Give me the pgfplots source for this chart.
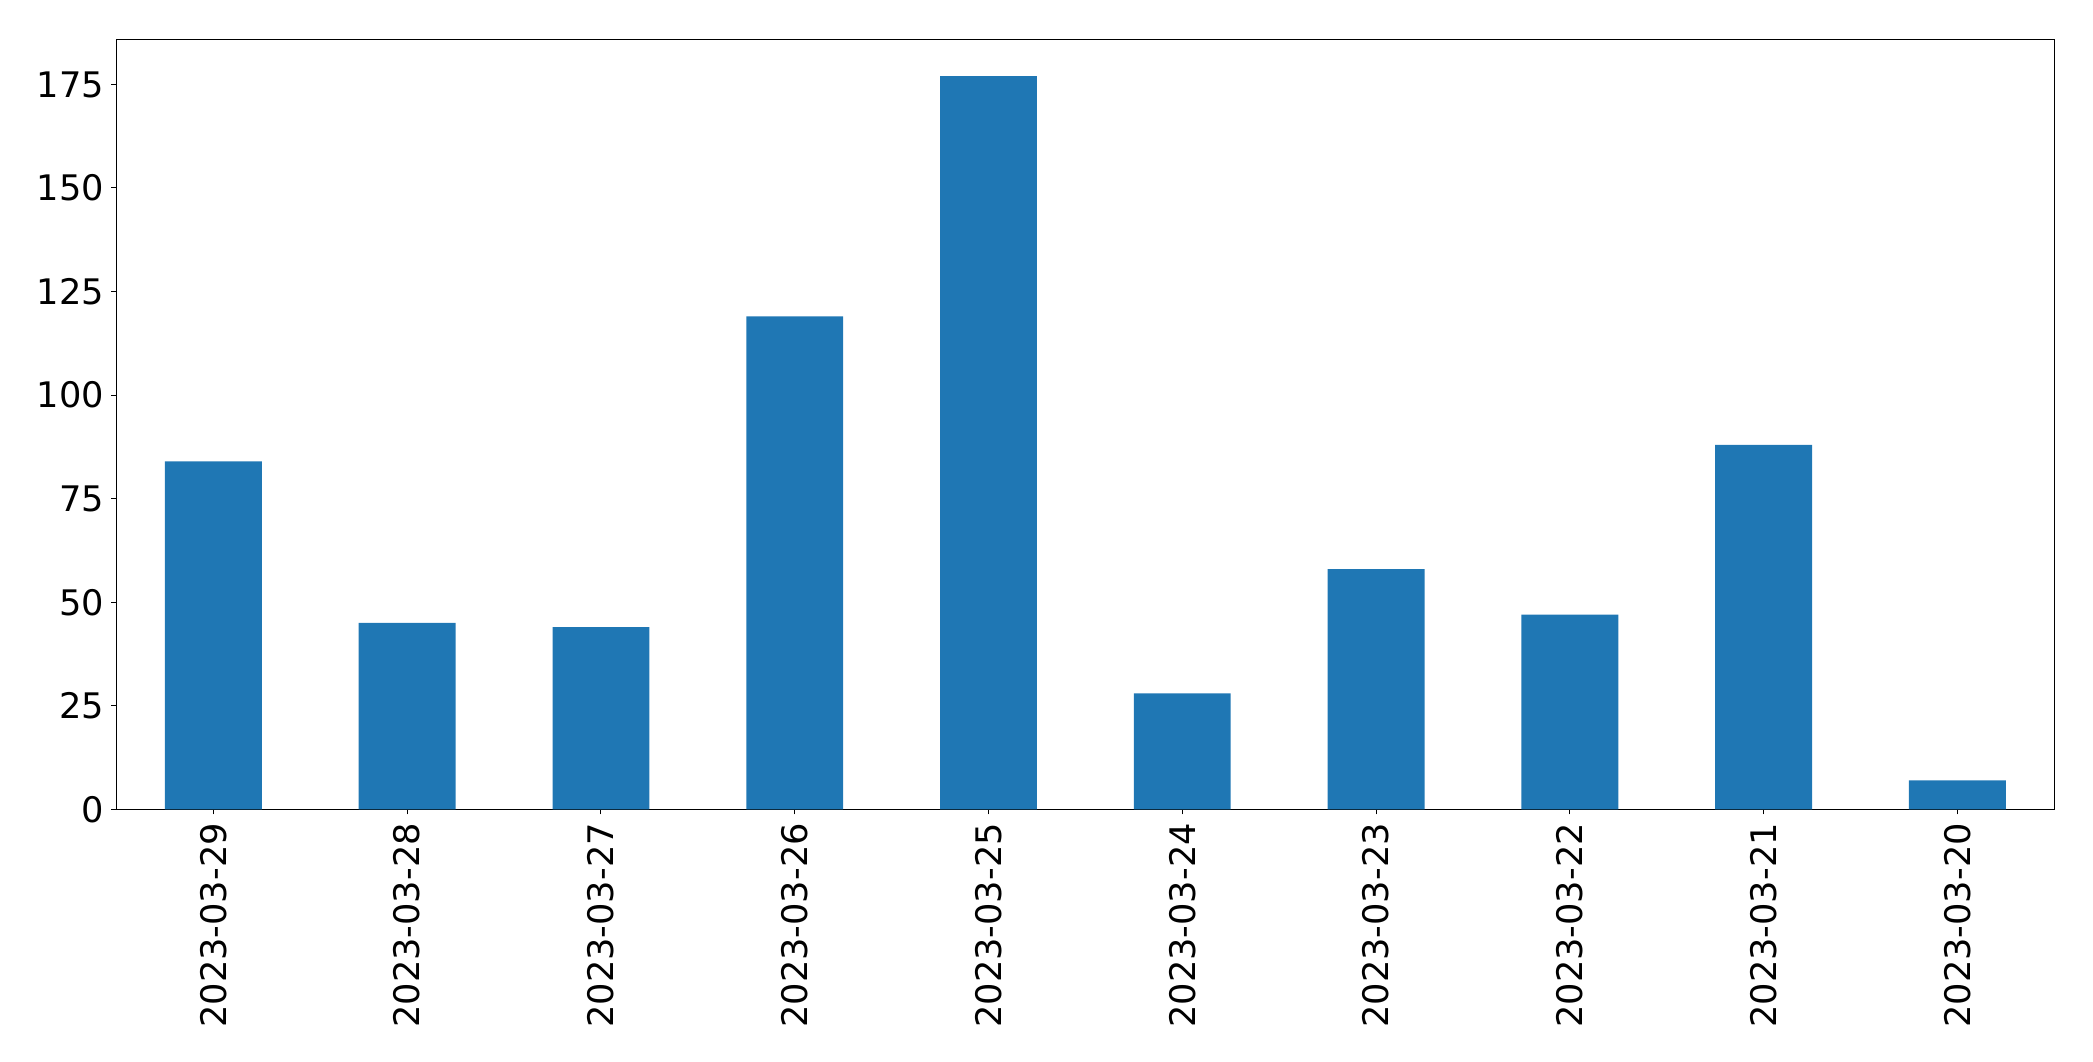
\documentclass[border=0pt]{standalone}
\usepackage{pgfplots}
\pgfplotsset{compat=1.18}
\usepackage{fontspec}
\setmainfont{DejaVu Sans}
\definecolor{mplblue}{HTML}{1F77B4}
\begin{document}
\begin{tikzpicture}
\useasboundingbox (-58.25pt,-125.85pt) rectangle (988.25pt,404.65pt);
\begin{axis}[
  at={(0,0)}, anchor=south west,
  scale only axis,
  width=968.9pt, height=384.9pt,
  xmin=-0.5, xmax=9.5,
  ymin=0, ymax=185.85,
  xtick={0,1,2,3,4,5,6,7,8,9},
  xticklabels={2023-03-29,2023-03-28,2023-03-27,2023-03-26,2023-03-25,2023-03-24,2023-03-23,2023-03-22,2023-03-21,2023-03-20},
  ytick={0,25,50,75,100,125,150,175},
  tick align=outside,
  major tick length=2.5pt,
  tick style={black, line width=0.5pt},
  axis line style={black, line width=0.55pt},
  xtick pos=bottom, ytick pos=left,
  ticklabel style={font=\fontsize{17.6}{21}\selectfont},
  /pgf/number format/assume math mode=true,
  x tick label style={rotate=90, anchor=east, inner sep=0pt, xshift=-4.2pt},
  y tick label style={inner sep=0pt, xshift=-3.5pt},
  ybar, bar width=0.5,
]
\addplot[fill=mplblue, draw=none, bar shift=0] coordinates {
(0,84) (1,45) (2,44) (3,119) (4,177) (5,28) (6,58) (7,47) (8,88) (9,7)
};
\end{axis}
\end{tikzpicture}
\end{document}
